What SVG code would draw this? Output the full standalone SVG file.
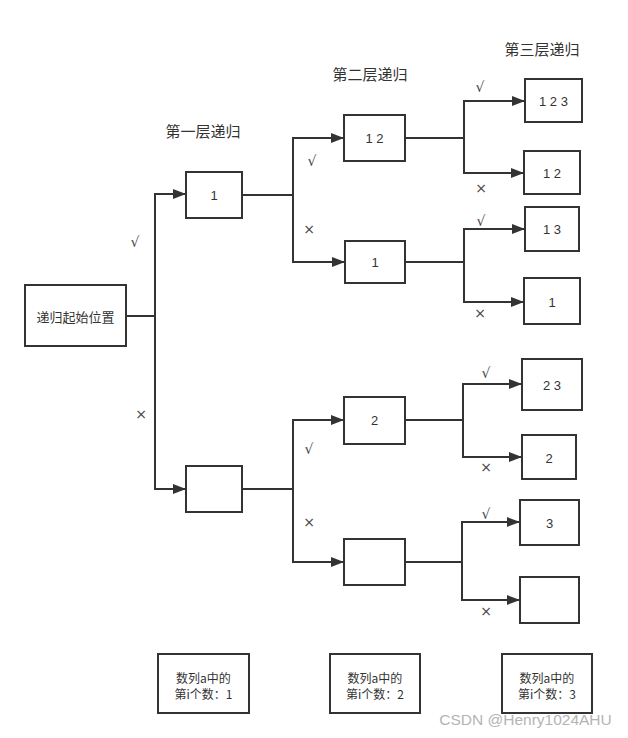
<svg xmlns="http://www.w3.org/2000/svg" width="628" height="738" viewBox="0 0 628 738">
  <style>
    .box { fill: #ffffff; stroke: #333333; stroke-width: 2; }
    .wire { fill: none; stroke: #333333; stroke-width: 2; }
    .lbl { font-family: "Liberation Sans", "Noto Sans CJK SC", sans-serif; font-size: 13px; fill: #333333; text-anchor: middle; dominant-baseline: central; }
    .cjk { font-family: "Noto Sans CJK SC", "Liberation Sans", sans-serif; font-size: 13px; fill: #333333; text-anchor: middle; dominant-baseline: central; }
    .leg { font-family: "Noto Sans CJK SC", "Liberation Sans", sans-serif; font-size: 12px; fill: #333333; text-anchor: middle; dominant-baseline: central; }
    .title { font-family: "Noto Sans CJK SC", sans-serif; font-size: 15px; fill: #333333; text-anchor: middle; dominant-baseline: central; }
    .mark { font-family: "DejaVu Sans", "Liberation Sans", sans-serif; font-size: 14px; fill: #444444; text-anchor: middle; dominant-baseline: central; }
    .wm { font-family: "Liberation Sans", sans-serif; font-size: 15.5px; fill: #b4b4b4; text-anchor: middle; dominant-baseline: central; }
  </style>
  <defs>
    <marker id="arrow" markerUnits="userSpaceOnUse" markerWidth="14" markerHeight="12" refX="13" refY="5" orient="auto">
      <path d="M0,0 L13,5 L0,10 Z" fill="#333333"/>
    </marker>
  </defs>

  <rect width="628" height="738" fill="#ffffff"/>

  <!-- level titles -->
  <text class="title" x="203" y="130">第一层递归</text>
  <text class="title" x="370" y="73">第二层递归</text>
  <text class="title" x="542" y="48">第三层递归</text>

  <!-- connectors -->
  <g id="connectors">
    <path class="wire" d="M126,316 H155 V194 H186" marker-end="url(#arrow)"/>
    <path class="wire" d="M155,316 V489 H186" marker-end="url(#arrow)"/>

    <path class="wire" d="M242,195 H293 V138 H344" marker-end="url(#arrow)"/>
    <path class="wire" d="M293,195 V262 H345" marker-end="url(#arrow)"/>
    <path class="wire" d="M242,489 H293 V420 H344" marker-end="url(#arrow)"/>
    <path class="wire" d="M293,489 V562 H344" marker-end="url(#arrow)"/>

    <path class="wire" d="M405,138 H464 V101 H525" marker-end="url(#arrow)"/>
    <path class="wire" d="M464,138 V173 H524" marker-end="url(#arrow)"/>
    <path class="wire" d="M405,262 H464 V229 H525" marker-end="url(#arrow)"/>
    <path class="wire" d="M464,262 V302 H524" marker-end="url(#arrow)"/>
    <path class="wire" d="M405,420 H463 V384 H522" marker-end="url(#arrow)"/>
    <path class="wire" d="M463,420 V457 H522" marker-end="url(#arrow)"/>
    <path class="wire" d="M405,562 H462 V522 H520" marker-end="url(#arrow)"/>
    <path class="wire" d="M462,562 V600 H520" marker-end="url(#arrow)"/>

    <!-- branch marks -->
    <text class="mark" x="135" y="242">√</text>
    <text class="mark" x="141" y="414">×</text>
    <text class="mark" x="312" y="161">√</text>
    <text class="mark" x="309" y="229">×</text>
    <text class="mark" x="309" y="449">√</text>
    <text class="mark" x="309" y="522">×</text>
    <text class="mark" x="480" y="87">√</text>
    <text class="mark" x="481" y="188">×</text>
    <text class="mark" x="481" y="221">√</text>
    <text class="mark" x="480" y="313">×</text>
    <text class="mark" x="486" y="373">√</text>
    <text class="mark" x="486" y="467">×</text>
    <text class="mark" x="486" y="514">√</text>
    <text class="mark" x="486" y="611">×</text>
  </g>

  <!-- root -->
  <g id="root">
    <rect class="box" x="25" y="285" width="101" height="61"/>
    <text class="cjk" x="75.5" y="316">递归起始位置</text>
  </g>

  <!-- level 1 -->
  <g id="l1-take">
    <rect class="box" x="186" y="172" width="56" height="46"/>
    <text class="lbl" x="214" y="195">1</text>
  </g>
  <g id="l1-skip">
    <rect class="box" x="186" y="466" width="56" height="46"/>
  </g>

  <!-- level 2 -->
  <g id="l2-12">
    <rect class="box" x="344" y="115" width="61" height="46"/>
    <text class="lbl" x="374.5" y="138">1 2</text>
  </g>
  <g id="l2-1">
    <rect class="box" x="345" y="241" width="60" height="42"/>
    <text class="lbl" x="375" y="262">1</text>
  </g>
  <g id="l2-2">
    <rect class="box" x="344" y="397" width="61" height="47"/>
    <text class="lbl" x="374.5" y="420.5">2</text>
  </g>
  <g id="l2-empty">
    <rect class="box" x="344" y="539" width="61" height="46"/>
  </g>

  <!-- level 3 -->
  <g id="l3-123">
    <rect class="box" x="525" y="79" width="57" height="43"/>
    <text class="lbl" x="553.5" y="101">1 2 3</text>
  </g>
  <g id="l3-12">
    <rect class="box" x="524" y="151" width="56" height="43"/>
    <text class="lbl" x="552" y="173">1 2</text>
  </g>
  <g id="l3-13">
    <rect class="box" x="525" y="207" width="54" height="44"/>
    <text class="lbl" x="552" y="229">1 3</text>
  </g>
  <g id="l3-1">
    <rect class="box" x="524" y="278" width="56" height="46"/>
    <text class="lbl" x="552" y="302">1</text>
  </g>
  <g id="l3-23">
    <rect class="box" x="522" y="359" width="60" height="51"/>
    <text class="lbl" x="552" y="385">2 3</text>
  </g>
  <g id="l3-2">
    <rect class="box" x="522" y="435" width="54" height="44"/>
    <text class="lbl" x="549" y="458">2</text>
  </g>
  <g id="l3-3">
    <rect class="box" x="520" y="500" width="59" height="45"/>
    <text class="lbl" x="549.5" y="523">3</text>
  </g>
  <g id="l3-empty">
    <rect class="box" x="520" y="577" width="59" height="46"/>
  </g>

  <!-- legend boxes -->
  <g id="legend-1">
    <rect class="box" x="158" y="654" width="91" height="59"/>
    <text class="leg" x="203.5" y="677">数列a中的</text>
    <text class="leg" x="203.5" y="693">第i个数：1</text>
  </g>
  <g id="legend-2">
    <rect class="box" x="330" y="654" width="90" height="59"/>
    <text class="leg" x="375" y="677">数列a中的</text>
    <text class="leg" x="375" y="693">第i个数：2</text>
  </g>
  <g id="legend-3">
    <rect class="box" x="502" y="654" width="90" height="59"/>
    <text class="leg" x="547" y="677">数列a中的</text>
    <text class="leg" x="547" y="693">第i个数：3</text>
  </g>

  <text class="wm" x="525.5" y="719">CSDN @Henry1024AHU</text>
</svg>
